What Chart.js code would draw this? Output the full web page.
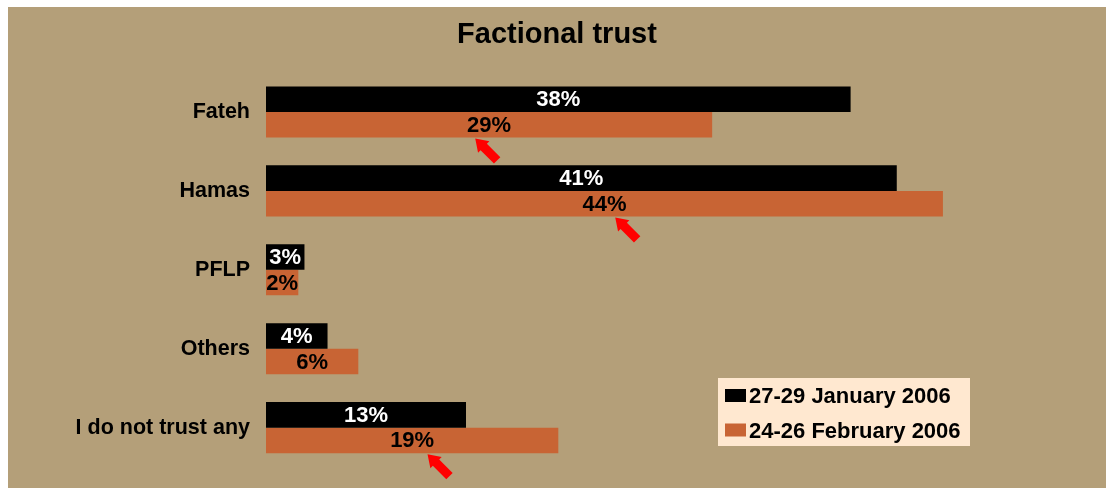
<!DOCTYPE html>
<html>
<head>
<meta charset="utf-8">
<script src="https://cdn.jsdelivr.net/npm/chart.js@4"></script>
<style>
  html, body { margin: 0; padding: 0; background: #fff; }
  body { width: 1106px; height: 488px; position: relative; overflow: hidden; }
  #box { position: absolute; left: 8px; top: 7px; width: 1098px; height: 481px; background: #b49f79; }
</style>
</head>
<body>
<div id="box"><canvas id="chart"></canvas></div>
<script>
const categories = ["Fateh", "Hamas", "PFLP", "Others", "I do not trust any"];
const seriesNames = ["27-29 January 2006", "24-26 February 2006"];
const january = [38, 41, 2.5, 4, 13];
const february = [29, 44, 2.1, 6, 19];
const chartTitle = "Factional trust";
// red arrows under some of the February labels (category, value on the % axis)
const arrowCats = ["Fateh", "Hamas", "I do not trust any"];
const arrowAt = [13.6, 22.7, 10.5];

const FONT = "Arial, 'Liberation Sans', sans-serif";
const colors = ["#000000", "#c86434"];

const titlePlugin = {
  id: "titleText",
  afterDraw(chart) {
    const ctx = chart.ctx;
    ctx.save();
    ctx.font = "bold 29px " + FONT;
    ctx.fillStyle = "#000";
    ctx.textAlign = "center";
    ctx.textBaseline = "alphabetic";
    ctx.fillText(chartTitle, chart.width / 2, 36);
    ctx.restore();
  }
};

const valueLabels = {
  id: "valueLabels",
  afterDatasetsDraw(chart) {
    const ctx = chart.ctx;
    ctx.save();
    ctx.font = "bold 22px " + FONT;
    ctx.textAlign = "center";
    ctx.textBaseline = "middle";
    chart.data.datasets.forEach((ds, i) => {
      const meta = chart.getDatasetMeta(i);
      ctx.fillStyle = i === 0 ? "#fff" : "#000";
      meta.data.forEach((bar, j) => {
        const x = (bar.base + bar.x) / 2;
        ctx.fillText(Math.round(ds.data[j]) + "%", x, bar.y + 1);
      });
    });
    ctx.restore();
  }
};

const arrows = {
  id: "arrows",
  afterDatasetsDraw(chart) {
    const ctx = chart.ctx;
    const xs = chart.scales.x;
    const meta = chart.getDatasetMeta(1);
    ctx.save();
    ctx.fillStyle = "#ff0000";
    arrowCats.forEach((c, i) => {
      const bar = meta.data[categories.indexOf(c)];
      const x = xs.getPixelForValue(arrowAt[i]);
      const y = bar.y + bar.height / 2 + 1;
      ctx.save();
      ctx.translate(x, y);
      ctx.rotate(Math.PI / 4);
      ctx.beginPath();
      ctx.moveTo(0, 0);
      ctx.lineTo(12, -8);
      ctx.lineTo(12, -4.5);
      ctx.lineTo(31, -4.5);
      ctx.lineTo(31, 4.5);
      ctx.lineTo(12, 4.5);
      ctx.lineTo(12, 8);
      ctx.closePath();
      ctx.fill();
      ctx.restore();
    });
    ctx.restore();
  }
};

const legendBox = {
  id: "legendBox",
  afterDraw(chart) {
    const ctx = chart.ctx;
    const left = 710, top = 371, w = 252, h = 68;
    ctx.save();
    ctx.fillStyle = "#ffe8d0";
    ctx.fillRect(left, top, w, h);
    ctx.font = "bold 22px " + FONT;
    ctx.textBaseline = "alphabetic";
    chart.data.datasets.forEach((ds, i) => {
      const cy = top + 17 + i * 34.5;
      ctx.fillStyle = ds.backgroundColor;
      ctx.fillRect(left + 7, cy - 6, 21, 13);
      ctx.fillStyle = "#000";
      ctx.fillText(ds.label, left + 31, cy + 8);
    });
    ctx.restore();
  }
};

new Chart(document.getElementById("chart"), {
  type: "bar",
  data: {
    labels: categories,
    datasets: [
      { label: seriesNames[0], data: january, backgroundColor: colors[0] },
      { label: seriesNames[1], data: february, backgroundColor: colors[1] }
    ]
  },
  options: {
    indexAxis: "y",
    responsive: true,
    maintainAspectRatio: false,
    animation: false,
    layout: { padding: { top: 65.5, bottom: 15, left: 0, right: 0 } },
    datasets: { bar: { barPercentage: 1, categoryPercentage: 0.647 } },
    scales: {
      x: { display: false, min: 0, max: 54.6 },
      y: {
        grid: { display: false },
        border: { display: false },
        ticks: { color: "#000", font: { family: FONT, size: 21.5, weight: "bold" }, padding: 8 },
        afterFit(s) { s.width = 258; }
      }
    },
    plugins: {
      legend: { display: false },
      title: { display: false },
      tooltip: { enabled: false }
    }
  },
  plugins: [titlePlugin, valueLabels, arrows, legendBox]
});
</script>
</body>
</html>
